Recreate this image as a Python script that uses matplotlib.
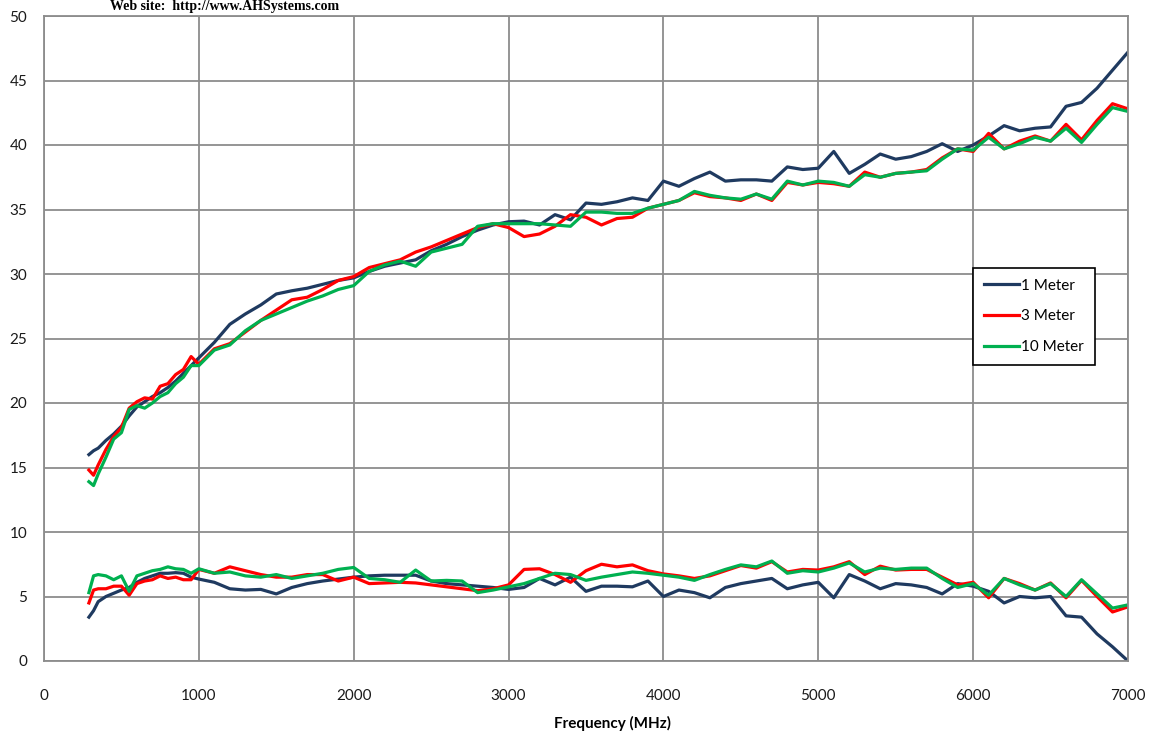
import numpy as np
import matplotlib
matplotlib.use("Agg")
import matplotlib.pyplot as plt

# frequency points (MHz)
freq = [290, 320, 350, 400, 450, 500, 550, 600, 650, 700, 750, 800, 850, 900, 950,
        1000, 1100, 1200, 1300, 1400, 1500, 1600, 1700, 1800, 1900,
        2000, 2100, 2200, 2300, 2400, 2500, 2600, 2700, 2800, 2900,
        3000, 3100, 3200, 3300, 3400, 3500, 3600, 3700, 3800, 3900,
        4000, 4100, 4200, 4300, 4400, 4500, 4600, 4700, 4800, 4900,
        5000, 5100, 5200, 5300, 5400, 5500, 5600, 5700, 5800, 5900,
        6000, 6100, 6200, 6300, 6400, 6500, 6600, 6700, 6800, 6900, 7000]

# upper curves
upper_1m = [16.0, 16.3, 16.5, 17.1, 17.6, 18.2, 19.0, 19.7, 20.1, 20.5, 20.8, 21.2, 21.7, 22.3, 22.9,
            23.5, 24.7, 26.1, 26.9, 27.6, 28.45, 28.7, 28.9, 29.2, 29.5,
            29.7, 30.2, 30.6, 30.85, 31.1, 31.8, 32.3, 32.9, 33.4, 33.8,
            34.05, 34.1, 33.8, 34.6, 34.2, 35.5, 35.4, 35.6, 35.9, 35.7,
            37.2, 36.8, 37.4, 37.9, 37.2, 37.3, 37.3, 37.2, 38.3, 38.1,
            38.2, 39.5, 37.8, 38.5, 39.3, 38.9, 39.1, 39.5, 40.1, 39.5,
            40.0, 40.7, 41.5, 41.1, 41.3, 41.4, 43.0, 43.3, 44.4, 45.8, 47.2]
upper_3m = [14.8, 14.4, 15.2, 16.4, 17.4, 18.1, 19.6, 20.1, 20.4, 20.3, 21.3, 21.5, 22.2, 22.6, 23.6,
            23.0, 24.2, 24.6, 25.5, 26.4, 27.2, 28.0, 28.2, 28.8, 29.5,
            29.8, 30.5, 30.8, 31.1, 31.7, 32.1, 32.6, 33.1, 33.6, 33.9,
            33.6, 32.9, 33.1, 33.7, 34.6, 34.4, 33.8, 34.3, 34.4, 35.1,
            35.4, 35.7, 36.3, 36.0, 35.9, 35.7, 36.2, 35.7, 37.1, 36.9,
            37.1, 37.0, 36.8, 37.9, 37.5, 37.8, 37.9, 38.1, 39.0, 39.7,
            39.5, 40.9, 39.7, 40.3, 40.7, 40.3, 41.6, 40.4, 41.9, 43.2, 42.8]
upper_10m = [13.9, 13.6, 14.5, 15.8, 17.2, 17.7, 19.5, 19.8, 19.6, 20.0, 20.5, 20.8, 21.5, 22.0, 22.9,
             22.9, 24.1, 24.5, 25.6, 26.4, 26.9, 27.4, 27.9, 28.3, 28.8,
             29.1, 30.2, 30.7, 31.0, 30.6, 31.7, 32.0, 32.3, 33.7, 33.9,
             33.9, 33.9, 33.9, 33.8, 33.7, 34.8, 34.8, 34.7, 34.7, 35.1,
             35.4, 35.7, 36.4, 36.1, 35.9, 35.8, 36.2, 35.8, 37.2, 36.9,
             37.2, 37.1, 36.8, 37.7, 37.5, 37.8, 37.9, 38.0, 38.9, 39.7,
             39.6, 40.6, 39.7, 40.1, 40.6, 40.3, 41.3, 40.2, 41.6, 42.9, 42.6]

# lower curves
lower_1m = [3.4, 3.9, 4.6, 5.0, 5.25, 5.5, 5.7, 6.1, 6.4, 6.6, 6.8, 6.8, 6.85, 6.8, 6.5,
            6.35, 6.1, 5.6, 5.5, 5.55, 5.2, 5.7, 6.0, 6.2, 6.35,
            6.5, 6.6, 6.65, 6.65, 6.65, 6.2, 6.0, 5.9, 5.8, 5.7,
            5.55, 5.7, 6.4, 5.9, 6.5, 5.4, 5.8, 5.8, 5.75, 6.2,
            5.0, 5.5, 5.3, 4.9, 5.7, 6.0, 6.2, 6.4, 5.6, 5.9,
            6.1, 4.9, 6.7, 6.2, 5.6, 6.0, 5.9, 5.7, 5.2, 6.0,
            5.8, 5.4, 4.5, 5.0, 4.9, 5.0, 3.5, 3.4, 2.1, 1.1, 0.0]
lower_3m = [4.5, 5.5, 5.6, 5.6, 5.8, 5.8, 5.1, 6.0, 6.2, 6.3, 6.6, 6.4, 6.5, 6.3, 6.3,
            7.1, 6.8, 7.3, 7.0, 6.7, 6.5, 6.5, 6.7, 6.7, 6.2,
            6.5, 6.0, 6.05, 6.1, 6.05, 5.9, 5.75, 5.6, 5.45, 5.6,
            5.9, 7.1, 7.15, 6.7, 6.1, 7.0, 7.5, 7.3, 7.45, 7.0,
            6.75, 6.6, 6.4, 6.6, 7.0, 7.4, 7.2, 7.7, 6.9, 7.1,
            7.05, 7.3, 7.7, 6.7, 7.35, 7.05, 7.1, 7.1, 6.5, 5.9,
            6.1, 4.9, 6.4, 6.0, 5.5, 6.05, 4.9, 6.25, 5.0, 3.8, 4.2]
lower_10m = [5.3, 6.6, 6.7, 6.6, 6.3, 6.6, 5.4, 6.6, 6.8, 7.0, 7.1, 7.3, 7.15, 7.1, 6.8,
             7.15, 6.8, 6.9, 6.6, 6.5, 6.7, 6.4, 6.6, 6.8, 7.1,
             7.25, 6.4, 6.3, 6.1, 7.05, 6.2, 6.25, 6.2, 5.3, 5.5,
             5.75, 6.0, 6.4, 6.8, 6.7, 6.25, 6.5, 6.7, 6.9, 6.8,
             6.65, 6.5, 6.25, 6.7, 7.1, 7.45, 7.3, 7.75, 6.8, 7.0,
             6.9, 7.2, 7.6, 6.9, 7.2, 7.1, 7.2, 7.2, 6.4, 5.7,
             6.0, 5.1, 6.4, 5.9, 5.5, 6.0, 5.0, 6.3, 5.2, 4.1, 4.35]

labels = ["1 Meter", "3 Meter", "10 Meter"]
colors = ["#1f3a60", "#ff0000", "#00b050"]

plt.rcParams['font.family'] = ['Lato', 'DejaVu Sans']

fig = plt.figure(figsize=(11.56, 7.37), dpi=100)
ax = fig.add_axes([44 / 1156, 1 - 661 / 737, 1084 / 1156, 645 / 737])

uppers = [upper_1m, upper_3m, upper_10m]
lowers = [lower_1m, lower_3m, lower_10m]
for up, lo, lab, c in zip(uppers, lowers, labels, colors):
    ax.plot(freq, up, color=c, lw=2.3, label=lab, solid_joinstyle='round')
    ax.plot(freq, lo, color=c, lw=2.3, solid_joinstyle='round')

ax.set_xlim(0, 7000)
ax.set_ylim(0, 50)
ax.set_xticks(np.arange(0, 7001, 1000))
ax.set_yticks(np.arange(0, 51, 5))
ax.grid(True, color="#8c8c8c", lw=1.3)
ax.set_axisbelow(True)
for s in ax.spines.values():
    s.set_color("#8c8c8c")
    s.set_linewidth(1.3)
ax.tick_params(axis='both', length=0, labelsize=11, colors="#1a1a1a")
ax.tick_params(axis='y', pad=12)
ax.tick_params(axis='x', pad=20)

fig.text(612 / 1156, 1 - 723 / 737, "Frequency (MHz)", ha='center', va='center',
         fontsize=11, fontweight='bold')
# header line from the source page, sitting at the very top edge
fig.text(225 / 1156, 1.0, "Web site:  http://www.AHSystems.com", ha='center',
         va='top', fontsize=10, fontweight='bold', family='Liberation Serif')

leg = ax.legend(loc='upper left', bbox_to_anchor=(973 / 1156, 1 - 268 / 737),
                bbox_transform=fig.transFigure, frameon=True, fancybox=False,
                edgecolor='black', fontsize=11, handlelength=2.3, handletextpad=0.15,
                labelspacing=1.1, borderpad=0.7, borderaxespad=0)
leg.get_frame().set_linewidth(1.2)
leg.get_frame().set_alpha(1)

fig.savefig("out.png", dpi=100)
